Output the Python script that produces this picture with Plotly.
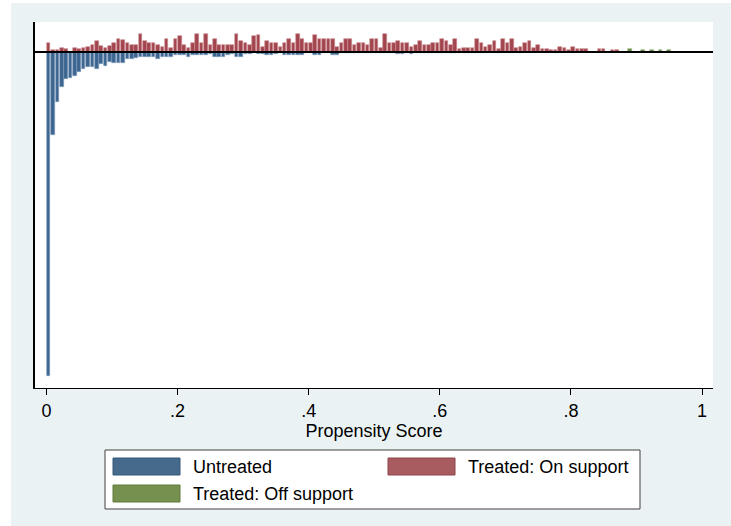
import plotly.graph_objects as go

# Propensity-score histogram: 150 equal bins on [0, 1]
n_bins = 150
bin_width = 1.0 / n_bins

# Frequencies per bin (bin index 0..132); treated on common support
treated_on = [
    14, 3, 3, 6, 5, 0, 6, 5, 6, 8, 11, 17, 9, 6, 9, 14, 20, 18, 13, 11,
    11, 27, 17, 13, 13, 11, 8, 20, 6, 19, 24, 11, 6, 13, 27, 14, 27, 11, 19, 11,
    11, 11, 11, 27, 17, 13, 11, 24, 25, 8, 17, 13, 14, 8, 14, 19, 13, 27, 19, 13,
    14, 25, 19, 19, 19, 20, 8, 13, 20, 19, 11, 13, 14, 11, 19, 20, 6, 27, 14, 14,
    17, 14, 13, 8, 11, 17, 11, 11, 14, 13, 20, 17, 11, 19, 5, 6, 6, 6, 20, 13,
    8, 11, 17, 5, 19, 13, 19, 6, 8, 13, 17, 6, 11, 5, 5, 3, 3, 8, 6, 3,
    8, 4, 5, 5, 0, 0, 4, 5, 0, 3, 3, 0, 0,
]

# Untreated frequencies per bin (bin index 0..119), plotted downward
untreated = [
    486, 124, 75, 52, 40, 39, 36, 30, 25, 22, 22, 25, 18, 21, 15, 16, 16, 16, 11, 10,
    9, 8, 7, 7, 7, 10, 7, 7, 8, 4, 4, 5, 7, 4, 4, 4, 4, 3, 7, 7,
    7, 5, 3, 7, 8, 3, 3, 2, 3, 3, 5, 5, 3, 2, 4, 5, 4, 5, 4, 2,
    2, 4, 4, 2, 2, 4, 4, 2, 2, 1, 2, 2, 1, 2, 2, 1, 2, 2, 1, 2,
    3, 3, 1, 3, 2, 1, 1, 2, 1, 1, 2, 1, 1, 1, 2, 1, 1, 1, 1, 1,
    1, 0, 0, 1, 0, 0, 1, 0, 1, 0, 0, 0, 0, 0, 0, 0, 1, 0, 0, 0,
]

# Treated observations off common support: bin index and frequency
off_bins = [133, 136, 138, 140, 142]
treated_off = [5, 3, 3, 3, 3]

tick_vals = [0, 0.2, 0.4, 0.6, 0.8, 1]
tick_text = ["0", ".2", ".4", ".6", ".8", "1"]
legend_labels = ["Untreated", "Treated: On support", "Treated: Off support"]

BLUE, BLUE_EDGE = "#3C6590", "#7F9CBA"
RED, RED_EDGE = "#A3454E", "#CC8D92"
GREEN, GREEN_EDGE = "#5F8A3E", "#9DB585"
SW_BLUE, SW_RED, SW_GREEN = "#466A8B", "#A85C60", "#76904F"
BG = "#EAF2F3"
FONT = "Liberation Sans, Arial, sans-serif"
FS = 18

W, H = 731, 526
L, R, T, B = 35, 18, 22, 138
PW, PH = W - L - R, H - T - B


def center(k):
    return (k + 0.5) * bin_width


def px(x, y):
    """Convert a figure pixel position to paper coordinates."""
    return (x - L) / PW, (H - B - y) / PH


fig = go.Figure()
bar_w = bin_width * 0.82

fig.add_trace(go.Bar(
    x=[center(k) for k in range(len(untreated))],
    y=[-v for v in untreated],
    width=bar_w, marker=dict(color=BLUE, line=dict(color=BLUE_EDGE, width=0.6)),
    name=legend_labels[0], showlegend=False,
))
fig.add_trace(go.Bar(
    x=[center(k) for k in range(len(treated_on))],
    y=treated_on,
    width=bar_w, marker=dict(color=RED, line=dict(color=RED_EDGE, width=0.6)),
    name=legend_labels[1], showlegend=False,
))
fig.add_trace(go.Bar(
    x=[center(k) for k in off_bins],
    y=treated_off,
    width=bar_w, marker=dict(color=GREEN, line=dict(color=GREEN_EDGE, width=0.6)),
    name=legend_labels[2], showlegend=False,
))

shapes = []
annotations = []

# white strips framing the graph region
shapes.append(dict(type="rect", xref="paper", yref="paper", layer="above",
                   x0=px(0, 0)[0], x1=px(11, 0)[0], y0=px(0, H)[1], y1=px(0, 0)[1],
                   fillcolor="white", line=dict(width=0)))
shapes.append(dict(type="rect", xref="paper", yref="paper", layer="above",
                   x0=px(0, 0)[0], x1=px(W, 0)[0], y0=px(0, 3)[1], y1=px(0, 0)[1],
                   fillcolor="white", line=dict(width=0)))

# horizontal reference line at zero frequency
shapes.append(dict(type="line", xref="paper", yref="y", layer="above",
                   x0=0, x1=1, y0=0, y1=0, line=dict(color="black", width=2)))

# legend box
lx0, ly0 = px(105, 450)
lx1, ly1 = px(640, 509)
shapes.append(dict(type="rect", xref="paper", yref="paper", layer="above",
                   x0=lx0, x1=lx1, y0=ly1, y1=ly0,
                   fillcolor="white", line=dict(color="#404040", width=1)))

legend_items = [
    (113, 458, SW_BLUE, "#35597A", legend_labels[0]),
    (388, 458, SW_RED, "#8E4548", legend_labels[1]),
    (113, 485, SW_GREEN, "#5F7A3C", legend_labels[2]),
]
for sx, sy, col, edge, label in legend_items:
    a0 = px(sx, sy)
    a1 = px(sx + 67, sy + 17)
    shapes.append(dict(type="rect", xref="paper", yref="paper", layer="above",
                       x0=a0[0], x1=a1[0], y0=a1[1], y1=a0[1],
                       fillcolor=col, line=dict(color=edge, width=1)))
    tx, ty = px(sx + 78, sy + 9)
    annotations.append(dict(xref="paper", yref="paper", x=tx, y=ty, text=label,
                            showarrow=False, xanchor="left", yanchor="middle",
                            font=dict(family=FONT, size=FS, color="black")))

fig.update_layout(
    width=W, height=H,
    margin=dict(l=L, r=R, t=T, b=B, pad=0),
    paper_bgcolor=BG, plot_bgcolor="white",
    barmode="overlay", bargap=0,
    font=dict(family=FONT, size=FS, color="black"),
    shapes=shapes, annotations=annotations,
    xaxis=dict(
        range=[(L - 46.5) / 655.5, (W - R - 46.5) / 655.5],
        tickvals=tick_vals, ticktext=tick_text,
        ticks="outside", ticklen=6, tickwidth=1, tickcolor="black",
        showline=True, linecolor="black", linewidth=1,
        showgrid=False, zeroline=False,
        tickfont=dict(family=FONT, size=FS, color="black"),
        title=dict(text="Propensity Score", standoff=0,
                   font=dict(family=FONT, size=FS, color="black")),
    ),
    yaxis=dict(
        range=[-504, 45],
        showline=True, linecolor="black", linewidth=2,
        ticks="", showticklabels=False, showgrid=False, zeroline=False,
    ),
)

fig.write_html("out.html")
